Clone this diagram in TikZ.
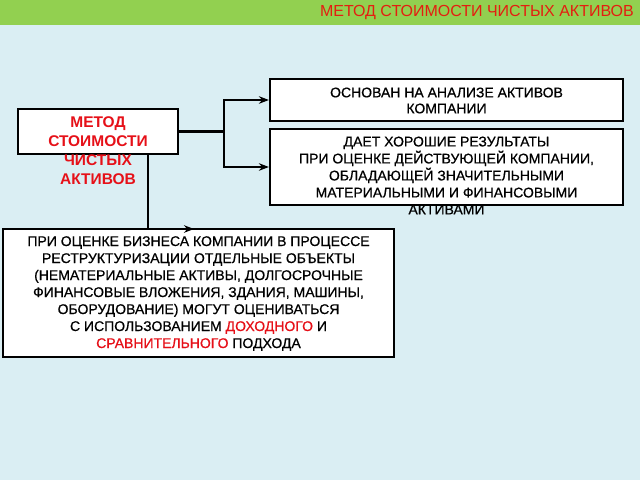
\documentclass[tikz,border=0pt]{standalone}
\usepackage{fontspec}
\setmainfont{Liberation Sans}
\newfontfamily\bodyfont[FakeBold=0.6]{Liberation Sans}
\usetikzlibrary{arrows.meta}
\definecolor{bgblue}{RGB}{218,238,243}
\definecolor{bargreen}{RGB}{146,208,80}
\definecolor{titlered}{RGB}{228,30,16}
\definecolor{txtred}{RGB}{230,16,24}
\tikzset{
  box/.style={draw=black,line width=2.2pt,fill=white,inner sep=0pt},
  body/.style={align=center,text=black,inner sep=0pt,font=\bodyfont\fontsize{14}{17}\selectfont},
  conn/.style={draw=black,line width=2.6pt},
  tip/.style={-{Stealth[length=10pt,width=7.5pt]}},
}
\begin{document}
\begin{tikzpicture}[x=1pt,y=-1pt]
\useasboundingbox (0,0) rectangle (640,480);
\fill[bgblue] (0,0) rectangle (640,480);
\fill[bargreen] (0,0) rectangle (640,25);
\node[anchor=east,inner sep=0pt,text=titlered,font=\fontsize{16}{18}\selectfont] (title) at (634,12.5) {МЕТОД СТОИМОСТИ ЧИСТЫХ АКТИВОВ};
% boxes
\node[box,minimum width=160pt,minimum height=45pt] (lbox) at (98,131.5) {};
\node[box,minimum width=353pt,minimum height=41.5pt] (r1) at (446.5,100) {};
\node[box,minimum width=353pt,minimum height=76pt] (r2) at (446.5,167) {};
\node[box,minimum width=391pt,minimum height=128pt] (bbox) at (198.5,293) {};
% texts
\node[align=center,inner sep=0pt,text=txtred,font=\bfseries\fontsize{15.5}{19}\selectfont] (ltext) at (98,150.5) {МЕТОД\\СТОИМОСТИ\\ЧИСТЫХ\\АКТИВОВ};
\node[body,font=\bodyfont\fontsize{14}{16}\selectfont] (r1text) at (446.5,100.5) {ОСНОВАН НА АНАЛИЗЕ АКТИВОВ\\КОМПАНИИ};
\node[body] (r2text) at (446.5,175.5) {ДАЕТ ХОРОШИЕ РЕЗУЛЬТАТЫ\\ПРИ ОЦЕНКЕ ДЕЙСТВУЮЩЕЙ КОМПАНИИ,\\ОБЛАДАЮЩЕЙ ЗНАЧИТЕЛЬНЫМИ\\МАТЕРИАЛЬНЫМИ И ФИНАНСОВЫМИ\\АКТИВАМИ};
\node[body] (btext) at (198.5,293.5) {ПРИ ОЦЕНКЕ БИЗНЕСА КОМПАНИИ В ПРОЦЕССЕ\\РЕСТРУКТУРИЗАЦИИ ОТДЕЛЬНЫЕ ОБЪЕКТЫ\\(НЕМАТЕРИАЛЬНЫЕ АКТИВЫ, ДОЛГОСРОЧНЫЕ\\ФИНАНСОВЫЕ ВЛОЖЕНИЯ, ЗДАНИЯ, МАШИНЫ,\\ОБОРУДОВАНИЕ) МОГУТ ОЦЕНИВАТЬСЯ\\С ИСПОЛЬЗОВАНИЕМ \textcolor{txtred}{ДОХОДНОГО} И\\\textcolor{txtred}{СРАВНИТЕЛЬНОГО} ПОДХОДА};
% connectors
\coordinate (fork) at (224,131.5);
\coordinate (btip) at (194,229);
\draw[conn] (lbox.east) -- (fork);
\draw[conn,tip] (fork) |- (r1.west);
\draw[conn,tip] (fork) |- (r2.west);
\draw[conn,tip] (lbox.south -| 148,0) |- (btip);
\end{tikzpicture}
\end{document}
